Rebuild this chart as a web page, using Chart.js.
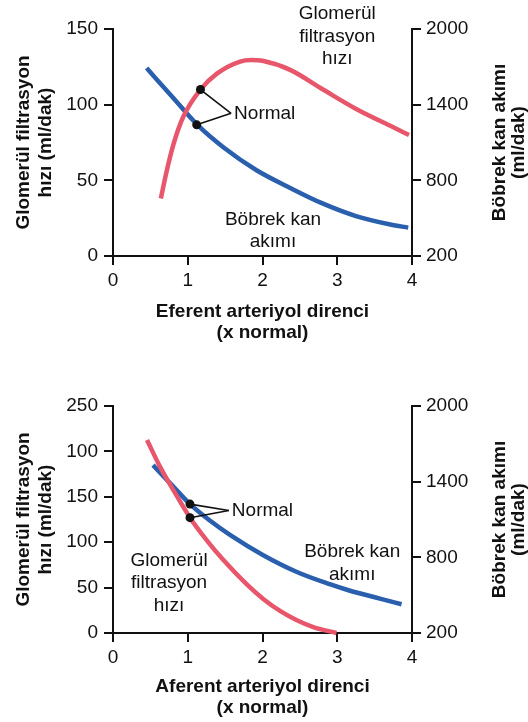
<!DOCTYPE html>
<html>
<head>
<meta charset="utf-8">
<script src="https://cdn.jsdelivr.net/npm/chart.js@4"></script>
<style>
  html, body { margin: 0; padding: 0; background: #fff; }
  .box { position: absolute; left: 0; width: 528px; height: 361px; }
  #top { top: 0; }
  #bottom { top: 361px; }
</style>
</head>
<body>
<div class="box" id="top"><canvas id="c1" width="528" height="361"></canvas></div>
<div class="box" id="bottom"><canvas id="c2" width="528" height="361"></canvas></div>
<script>
// --- data ---
// top: efferent arteriole resistance (x normal)
const effGfrX = [0.64, 0.72, 0.81, 0.94, 1.17, 1.39, 1.70, 1.85, 2.0, 2.37, 2.81, 3.26, 3.71, 3.96];
const effGfrY = [38, 56.5, 74, 92, 110, 120.5, 128.5, 129.5, 129, 123, 110, 97, 86, 80];
const effRbfX = [0.45, 0.81, 1.13, 1.48, 1.92, 2.37, 2.81, 3.26, 3.71, 3.95];
const effRbfY = [1690, 1451, 1239, 1060, 880, 740, 615, 515, 450, 425];
const effNormal = { gfr: [1.17, 110], rbf: [1.12, 1240], label: [1.58, 94.3] };

// bottom: afferent arteriole resistance (x normal)
const affGfrX = [0.455, 0.63, 0.81, 1.03, 1.26, 1.48, 1.79, 2.01, 2.24, 2.46, 2.68, 2.99];
const affGfrY = [212.5, 183, 157, 127, 101.5, 80, 53.5, 37.5, 24, 14, 6.5, 0];
const affRbfX = [0.535, 0.81, 1.03, 1.3, 1.57, 2.01, 2.46, 2.91, 3.15, 3.57, 3.86];
const affRbfY = [1531, 1359, 1222, 1090, 976, 817, 684, 585, 539, 473, 428];
const affNormal = { gfr: [1.03, 127], rbf: [1.03, 1222], label: [1.55, 135] };

// tick labels
const xTickLabels = ["0", "1", "2", "3", "4"];
const gfrTicksTop = ["0", "50", "100", "150"];
const gfrTicksBottom = ["0", "50", "100", "150", "100", "250"];
const rbfTickLabels = ["200", "800", "1400", "2000"];

const RED = "#e8566b";
const BLUE = "#2a5fae";
const INK = "#111";
const FONT = "'Liberation Sans', Arial, Helvetica, sans-serif";

const pts = (xs, ys) => xs.map((x, i) => ({ x: x, y: ys[i] }));

const notesPlugin = {
  id: "notes",
  afterDatasetsDraw(chart, args, opts) {
    const ctx = chart.ctx;
    const sx = chart.scales.x, sy = chart.scales.y, r = chart.scales.y2;
    ctx.save();
    ctx.fillStyle = INK;
    ctx.textBaseline = "middle";
    ctx.font = "19px " + FONT;
    (opts.notes || []).forEach((n) => {
      ctx.textAlign = n.align || "center";
      const px = sx.getPixelForValue(n.x) + (n.dx || 0);
      const py = sy.getPixelForValue(n.y);
      n.lines.forEach((t, i) => ctx.fillText(t, px, py + i * 22.5));
    });
    // right axis title, reads bottom-to-top
    ctx.font = "bold 19px " + FONT;
    ctx.textAlign = "center";
    const cy = (r.top + r.bottom) / 2;
    ["Böbrek kan akımı", "(ml/dak)"].forEach((t, i) => {
      ctx.save();
      ctx.translate(r.right - 28 + i * 19, cy);
      ctx.rotate(-Math.PI / 2);
      ctx.fillText(t, 0, 0);
      ctx.restore();
    });
    ctx.restore();
  },
};

function makeChart(id, o) {
  const axisCommon = {
    border: { display: true, color: INK, width: 2 },
    grid: { drawOnChartArea: false, color: INK, tickColor: INK, tickLength: 9, lineWidth: 2 },
  };
  return new Chart(document.getElementById(id), {
    type: "line",
    plugins: [notesPlugin],
    data: {
      datasets: [
        {
          data: [{ x: o.normal.gfr[0], y: o.normal.gfr[1] }],
          yAxisID: "y",
          showLine: false,
          pointRadius: 4.5,
          pointBackgroundColor: INK,
          pointBorderWidth: 0,
        },
        {
          data: [{ x: o.normal.rbf[0], y: o.normal.rbf[1] }],
          yAxisID: "y2",
          showLine: false,
          pointRadius: 4.5,
          pointBackgroundColor: INK,
          pointBorderWidth: 0,
        },
        {
          data: [
            { x: o.normal.gfr[0], y: o.normal.gfr[1] },
            { x: o.normal.label[0], y: o.normal.label[1] },
          ],
          yAxisID: "y",
          borderColor: INK,
          borderWidth: 1.6,
          pointRadius: 0,
        },
        {
          // rbf dot expressed on the left scale
          data: [
            { x: o.normal.rbf[0], y: (o.normal.rbf[1] - 200) / o.rbfPerGfr },
            { x: o.normal.label[0], y: o.normal.label[1] },
          ],
          yAxisID: "y",
          borderColor: INK,
          borderWidth: 1.6,
          pointRadius: 0,
        },
        {
          data: o.gfr,
          yAxisID: "y",
          borderColor: RED,
          borderWidth: 4.5,
          pointRadius: 0,
          cubicInterpolationMode: "monotone",
          clip: false,
        },
        {
          data: o.rbf,
          yAxisID: "y2",
          borderColor: BLUE,
          borderWidth: 4.5,
          pointRadius: 0,
          cubicInterpolationMode: "monotone",
          clip: false,
        },
      ],
    },
    options: {
      responsive: false,
      animation: false,
      layout: { padding: { top: o.padTop, left: 0, right: 0, bottom: 0 } },
      plugins: {
        legend: { display: false },
        tooltip: { enabled: false },
        notes: { notes: o.notes },
      },
      scales: {
        x: {
          ...axisCommon,
          type: "linear",
          min: 0,
          max: 4,
          ticks: {
            stepSize: 1,
            padding: 4,
            color: INK,
            font: { size: 19, family: FONT },
            callback: (v, i) => xTickLabels[i],
          },
          title: {
            display: true,
            text: o.xTitle,
            color: INK,
            font: { size: 19, weight: "bold", family: FONT, lineHeight: 1.1 },
            padding: { top: 0, bottom: o.xTitlePad },
          },
          afterFit: (s) => { s.height = o.xHeight; },
        },
        y: {
          ...axisCommon,
          position: "left",
          min: 0,
          max: o.gfrMax,
          ticks: {
            stepSize: 50,
            padding: 6,
            color: INK,
            font: { size: 19, family: FONT },
            callback: (v, i) => o.gfrTicks[i],
          },
          title: {
            display: true,
            text: ["Glomerül filtrasyon", "hızı (ml/dak)"],
            color: INK,
            font: { size: 19, weight: "bold", family: FONT, lineHeight: 1.15 },
            padding: { top: 13, bottom: 0 },
          },
          afterFit: (s) => { s.width = 113; },
        },
        y2: {
          ...axisCommon,
          position: "right",
          min: 200,
          max: 2000,
          ticks: {
            stepSize: 600,
            padding: 5,
            color: INK,
            font: { size: 19, family: FONT },
            callback: (v, i) => rbfTickLabels[i],
          },
          afterFit: (s) => { s.width = 116; },
        },
      },
    },
  });
}

makeChart("c1", {
  gfr: pts(effGfrX, effGfrY),
  rbf: pts(effRbfX, effRbfY),
  normal: effNormal,
  rbfPerGfr: 12,
  gfrMax: 150,
  gfrTicks: gfrTicksTop,
  padTop: 29,
  xHeight: 105,
  xTitlePad: 18,
  xTitle: ["Eferent arteriyol direnci", "(x normal)"],
  notes: [
    { x: 3.0, y: 160, lines: ["Glomerül", "filtrasyon", "hızı"] },
    { x: 2.14, y: 24, lines: ["Böbrek kan", "akımı"] },
    { x: effNormal.label[0], y: effNormal.label[1], dx: 3, align: "left", lines: ["Normal"] },
  ],
});

makeChart("c2", {
  gfr: pts(affGfrX, affGfrY),
  rbf: pts(affRbfX, affRbfY),
  normal: affNormal,
  rbfPerGfr: 7.2,
  gfrMax: 250,
  gfrTicks: gfrTicksBottom,
  padTop: 45,
  xHeight: 89,
  xTitlePad: 4,
  xTitle: ["Aferent arteriyol direnci", "(x normal)"],
  notes: [
    { x: 0.75, y: 80, lines: ["Glomerül", "filtrasyon", "hızı"] },
    { x: 3.2, y: 89, lines: ["Böbrek kan", "akımı"] },
    { x: affNormal.label[0], y: affNormal.label[1], dx: 3, align: "left", lines: ["Normal"] },
  ],
});
</script>
</body>
</html>
